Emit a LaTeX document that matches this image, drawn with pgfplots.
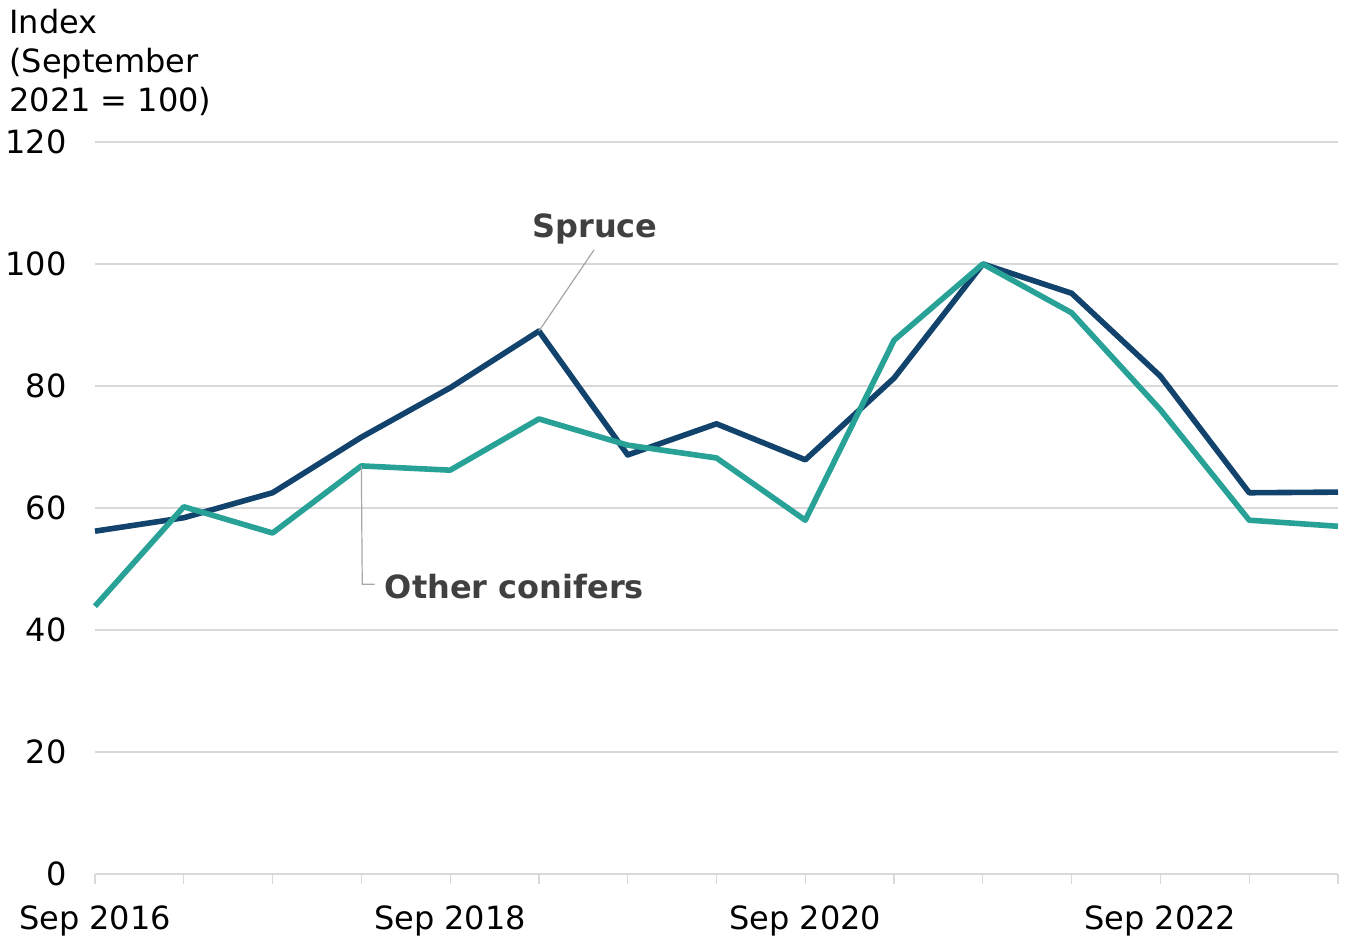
\documentclass[border=0pt]{standalone}
\usepackage{pgfplots}
\pgfplotsset{compat=1.18}
\usepackage{fontspec}
\setmainfont{DejaVu Sans}
\definecolor{spruce}{HTML}{12436D}
\definecolor{other}{HTML}{28A197}
\definecolor{annot}{HTML}{404040}
\definecolor{gridc}{HTML}{D9D9D9}
\definecolor{leader}{HTML}{A6A6A6}
\begin{document}
\begin{tikzpicture}
\useasboundingbox (-47.5pt,-31pt) rectangle (625pt,437pt);
\begin{axis}[
  at={(0,0)}, anchor=south west,
  scale only axis, width=621.5pt, height=366pt,
  xmin=0, xmax=14, ymin=0, ymax=120,
  xtick={0,...,14},
  xticklabels={Sep 2016,,,,Sep 2018,,,,Sep 2020,,,,Sep 2022,,},
  ytick={0,20,...,120},
  axis x line*=bottom, axis y line*=left,
  y axis line style={draw=none},
  x axis line style={draw=gridc, line width=0.6pt},
  xtick style={draw=gridc, line width=0.6pt},
  major tick length=5pt,
  xtick align=outside,
  ytick style={draw=none},
  ymajorgrids, grid style={draw=gridc, line width=0.6pt},
  tick label style={font=\fontsize{16pt}{19pt}\selectfont, text=black},
  /pgf/number format/assume math mode=true,
  yticklabel style={anchor=east, inner sep=0pt, xshift=-14pt},
  xticklabel style={anchor=center, inner sep=0pt, yshift=-18.5pt},
  clip=false,
]
\addplot[spruce, line width=2.8pt, line join=round] coordinates {
(0,56.2) (1,58.4) (2,62.5) (3,71.6) (4,79.7) (5,89.0) (6,68.7) (7,73.8)
(8,67.9) (9,81.3) (10,100) (11,95.2) (12,81.6) (13,62.5) (14,62.6)};
\addplot[other, line width=2.8pt, line join=round] coordinates {
(0,43.9) (1,60.2) (2,55.9) (3,66.9) (4,66.2) (5,74.6) (6,70.3) (7,68.2)
(8,58.0) (9,87.5) (10,100) (11,92.0) (12,76.1) (13,58.0) (14,57.0)};
\draw[leader, line width=0.6pt] (axis cs:5.62,102.3) -- (axis cs:5.0,89.0);
\node[font=\fontsize{16pt}{19pt}\selectfont\bfseries, text=annot, anchor=center] at (axis cs:5.63,105.8) {Spruce};
\draw[leader, line width=0.6pt] (axis cs:3.0,66.9) -- (axis cs:3.01,47.5) -- (axis cs:3.15,47.5);
\node[font=\fontsize{16pt}{19pt}\selectfont\bfseries, text=annot, anchor=west, inner sep=0pt] at (axis cs:3.26,47.2) {Other conifers};
\end{axis}
\node[anchor=north west, align=left, inner sep=0pt, font=\fontsize{16pt}{19.5pt}\selectfont, text=black] at (-43pt,432.5pt) {Index\\(September\\2021 = 100)};
\end{tikzpicture}
\end{document}
